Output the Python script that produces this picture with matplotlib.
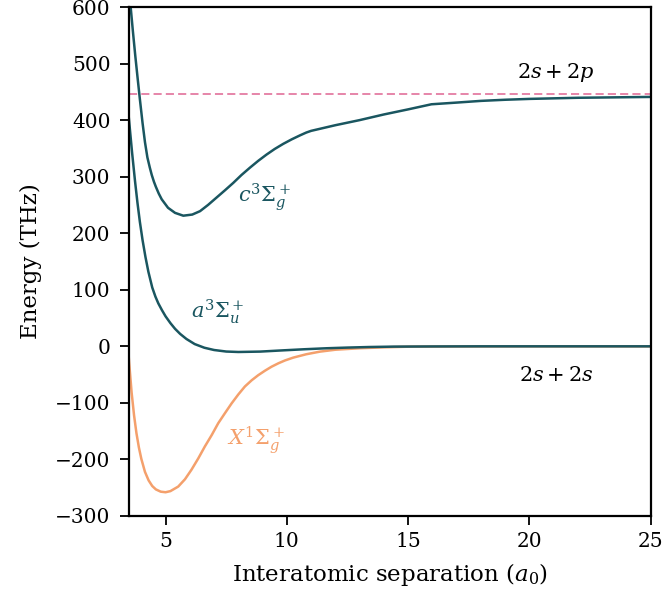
import matplotlib
matplotlib.use("Agg")
import matplotlib.pyplot as plt

plt.rcParams['font.family'] = ['DejaVu Serif']
plt.rcParams['mathtext.fontset'] = 'dejavuserif'
plt.rcParams['font.size'] = 13

# potential curves, energies in THz against separation in a0
r_c = [3.50, 3.56, 3.65, 3.75, 3.85, 3.94, 4.05, 4.15, 4.25, 4.35, 4.43, 4.52,
       4.60, 4.72, 4.84, 5.10, 5.39, 5.73, 6.10, 6.42, 6.75, 7.10, 7.45, 7.79,
       8.13, 8.48, 8.82, 9.16, 9.50, 9.85, 10.20, 10.54, 10.80, 11.0, 12.0,
       13.0, 14.0, 15.0, 15.96, 17.0, 18.0, 19.0, 20.0, 22.0, 25.0]
e_c = [640, 600, 558, 514, 473, 437, 395, 361, 334, 316, 303, 291,
       282, 270, 260, 245, 236, 231, 233, 239, 250, 263, 276, 289,
       303, 316, 328, 339, 349, 358, 366, 373, 378, 381, 391,
       400, 410, 419, 428, 431, 434, 436, 437.5, 439.5, 441]

r_a = [3.45, 3.53, 3.62, 3.74, 3.84, 3.94, 4.05, 4.17, 4.29, 4.45, 4.58, 4.70,
       4.85, 5.00, 5.20, 5.39, 5.60, 5.86, 6.20, 6.60, 7.00, 7.50, 8.00, 8.90,
       9.80, 10.70, 11.64, 12.50, 13.40, 14.40, 16.0, 18.0, 25.0]
e_a = [420, 383, 342, 292, 254, 220, 188, 158, 132, 104, 88, 76,
       64, 53, 41, 31, 22, 13, 4, -2.5, -6.5, -9.2, -10, -9.3,
       -7.2, -5.2, -3.4, -2.2, -1.2, -0.5, -0.2, 0, 0]

r_x = [3.45, 3.50, 3.60, 3.70, 3.80, 3.90, 4.00, 4.15, 4.30, 4.45, 4.60, 4.80,
       5.00, 5.20, 5.52, 5.80, 6.07, 6.35, 6.62, 6.90, 7.17, 7.45, 7.72, 8.00,
       8.27, 8.55, 8.82, 9.10, 9.37, 9.65, 9.92, 10.26, 10.80, 11.36, 12.0,
       13.0, 14.0, 15.1, 17.0, 20.0, 25.0]
e_x = [0, -30, -82, -122, -154, -179, -199, -222, -237, -247, -253, -257,
       -258, -256, -248, -235, -218, -198, -177, -157, -136, -118, -101, -85,
       -71, -60, -51, -43, -36, -30, -25, -20, -14, -9.4, -6,
       -3.4, -1.8, -0.5, -0.2, 0, 0]

asymptote_2p = 446

teal = '#1a5660'
orange = '#f4a06c'
pink = '#e47ca2'

fig = plt.figure(figsize=(6.66, 6.04), dpi=100)
ax = fig.add_axes([0.194, 0.1457, 0.783, 0.8427])

ax.axhline(asymptote_2p, color=pink, lw=1.3, ls=(0, (4.5, 2.3)))
ax.plot(r_x, e_x, color=orange, lw=1.8)
ax.plot(r_a, e_a, color=teal, lw=1.8)
ax.plot(r_c, e_c, color=teal, lw=1.8)

ax.text(9.09, 264, r'$c^3\Sigma_g^+$', color=teal, fontsize=15, ha='center', va='center')
ax.text(7.16, 61, r'$a^3\Sigma_u^+$', color=teal, fontsize=15, ha='center', va='center')
ax.text(8.72, -166, r'$X^1\Sigma_g^+$', color=orange, fontsize=15, ha='center', va='center')
ax.text(21.1, 485, r'$2s + 2p$', fontsize=15, ha='center', va='center')
ax.text(21.1, -52, r'$2s + 2s$', fontsize=15, ha='center', va='center')

ax.set_xlim(3.5, 25)
ax.set_ylim(-300, 600)
ax.set_xticks([5, 10, 15, 20, 25])
ax.set_yticks(range(-300, 601, 100))
ax.set_xlabel(r'Interatomic separation ($a_0$)', fontsize=16.5, labelpad=7)
ax.set_ylabel('Energy (THz)', fontsize=16.5, labelpad=9)
for s in ax.spines.values():
    s.set_linewidth(1.6)
ax.tick_params(direction='out', length=6.5, width=1.3, labelsize=14.5)
ax.tick_params(axis='y', pad=7)
ax.tick_params(axis='x', pad=5)

fig.savefig('out.png', dpi=100)
